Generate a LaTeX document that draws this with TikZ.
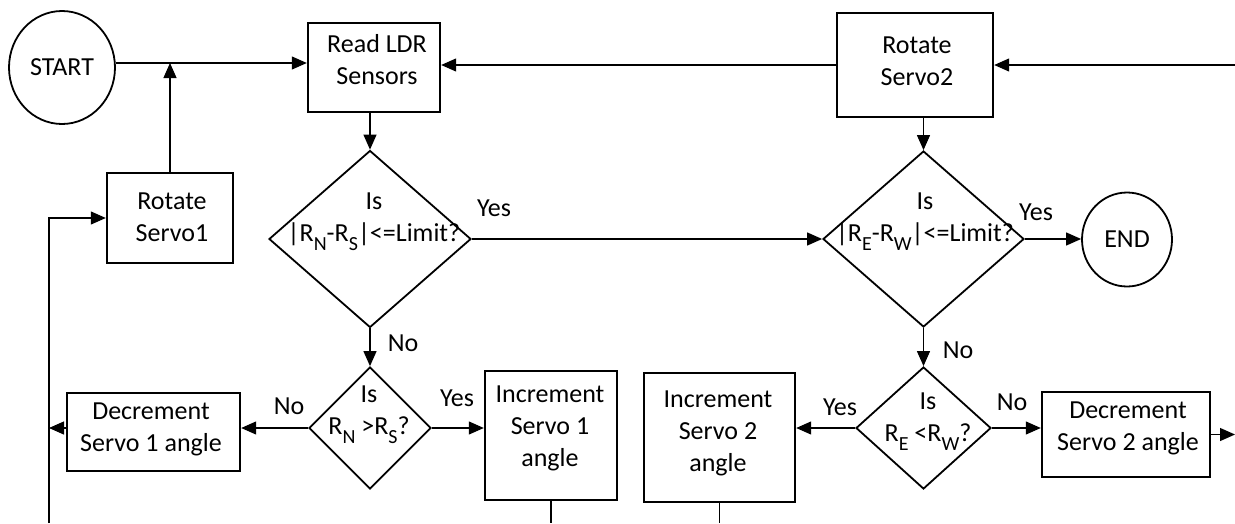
\documentclass[tikz,border=0pt]{standalone}
\usepackage{fontspec}
\setmainfont{Carlito}
\usetikzlibrary{arrows.meta,shapes.geometric}
% lowered index letter used in the comparisons
\newcommand\lowsub[1]{\raisebox{-9pt}{\fontsize{20}{20}\selectfont #1}}
\begin{document}
\begin{tikzpicture}[x=1pt,y=-1pt,
  every node/.style={font=\fontsize{26}{32}\selectfont, inner sep=0pt},
  box/.style={draw, rectangle, line width=2.4pt},
  term/.style={draw, ellipse, line width=1.8pt},
  decision/.style={draw, diamond, line width=1.8pt},
  txt/.style={align=center},
  conn/.style={line width=1.2pt, -{Triangle[length=15pt,width=13pt]}},
  plain/.style={line width=1.2pt},
]
\useasboundingbox (0,0) rectangle (1235,523);

% terminals
\node[term, minimum width=106pt, minimum height=113pt] (start) at (62,67.5) {START};
\node[term, minimum width=90pt, minimum height=94pt] (end) at (1127,239.5) {END};

% process boxes
\node[box, minimum width=132pt, minimum height=89pt] (readldr) at (374,67.5) {};
\node[txt] (readldr-t) at (377,60) {Read LDR\\Sensors};
\node[box, minimum width=126pt, minimum height=90pt] (rot1) at (170,218) {};
\node[txt] (rot1-t) at (172,217) {Rotate\\Servo1};
\node[box, minimum width=156pt, minimum height=104pt] (rot2) at (915,65) {};
\node[txt] (rot2-t) at (917,61) {Rotate\\Servo2};
\node[box, minimum width=173pt, minimum height=78pt] (dec1) at (153.5,432) {};
\node[txt] (dec1-t) at (151,429) {Decrement\\Servo 1 angle};
\node[box, minimum width=132pt, minimum height=129pt] (inc1) at (551,435.5) {};
\node[txt] (inc1-t) at (550,428) {Increment\\Servo 1\\angle};
\node[box, minimum width=151pt, minimum height=129pt] (inc2) at (719.5,437.5) {};
\node[txt] (inc2-t) at (718,433) {Increment\\Servo 2\\angle};
\node[box, minimum width=168pt, minimum height=85pt] (dec2) at (1126,434.5) {};
\node[txt] (dec2-t) at (1128,428) {Decrement\\Servo 2 angle};

% decisions
\node[decision, minimum width=202pt, minimum height=177pt] (d1) at (370,239) {};
\node[txt] (d1-t) at (374,222) {Is\\|R\lowsub{N}-R\lowsub{S}|<=Limit?};
\node[decision, minimum width=201pt, minimum height=176pt] (d2) at (923.5,239) {};
\node[txt] (d2-t) at (925,222) {Is\\|R\lowsub{E}-R\lowsub{W}|<=Limit?};
\node[decision, minimum width=122pt, minimum height=122pt] (d3) at (370,428) {};
\node[txt] (d3-t) at (369,415) {Is\\R\lowsub{N} >R\lowsub{S}?};
\node[decision, minimum width=135pt, minimum height=122pt] (d4) at (923.5,428) {};
\node[txt] (d4-t) at (928,422) {Is\\R\lowsub{E} <R\lowsub{W}?};

% free ends of the loop lines
\coordinate (startline) at ([yshift=4.5pt]start.east);
\coordinate (rin) at (1235,65);
\coordinate (rout) at (1235,434.5);
\coordinate (lbot) at (49,523);

% connectors
\draw[conn] (startline) -- (startline -| readldr.west);
\draw[conn] (rot1.north) -- (rot1.north |- startline);
\draw[conn] (rin) -- (rot2.east);
\draw[conn] (rot2.west) -- (rot2.west -| readldr.east);
\draw[conn] (d1.north |- readldr.south) -- (d1.north);
\draw[conn] (d2.north |- rot2.south) -- (d2.north);
\draw[conn] (d1.east) -- (d2.west);
\draw[conn] (d2.east) -- (d2.east -| end.west);
\draw[conn] (d1.south) -- (d3.north);
\draw[conn] (d2.south) -- (d4.north);
\draw[conn] (d3.west) -- (d3.west -| dec1.east);
\draw[conn] (d3.east) -- (d3.east -| inc1.west);
\draw[conn] (d4.west) -- (d4.west -| inc2.east);
\draw[conn] (d4.east) -- (d4.east -| dec2.west);
\draw[conn] (lbot) |- (rot1.west);
\draw[conn] (d3.west -| dec1.west) -- (d3.west -| lbot);
\draw[plain] (inc1.south) -- (inc1.south |- lbot);
\draw[plain] (inc2.south) -- (inc2.south |- lbot);
\draw[conn] (dec2.east) -- (rout);

% branch labels
\node (l-yes1) at (494,208) {Yes};
\node (l-yes2) at (1036,212) {Yes};
\node (l-no1) at (403,343) {No};
\node (l-no2) at (958,350) {No};
\node (l-no3) at (289,406) {No};
\node (l-yes3) at (457,398) {Yes};
\node (l-yes4) at (840,407) {Yes};
\node (l-no4) at (1012,402) {No};
\end{tikzpicture}
\end{document}
